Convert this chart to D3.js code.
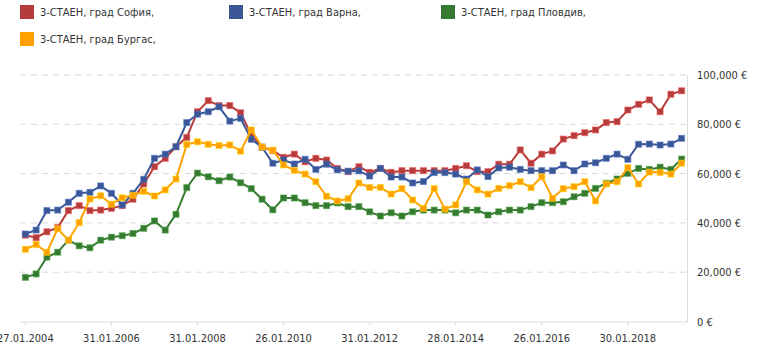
<!DOCTYPE html>
<html>
<head>
<meta charset="utf-8">
<script src="https://cdn.jsdelivr.net/npm/d3@7"></script>
<style>
  body { margin: 0; background: #fff; }
  text { font-family: "DejaVu Sans Condensed", "DejaVu Sans", sans-serif; fill: #333; }
</style>
</head>
<body>
<div id="chart"></div>
<script>
// quarterly prices, EUR
var seriesNames = ["3-СТАЕН, град София,", "3-СТАЕН, град Варна,", "3-СТАЕН, град Пловдив,", "3-СТАЕН, град Бургас,"];
var seriesColors = ["#b43c3c", "#3a5695", "#357a30", "#ffa000"];

var sofia = [35000, 34000, 36400, 38100, 45000, 47000, 45000, 45200, 45900, 47000, 49600, 55800, 62800, 66200, 70900, 74700,
  85100, 89600, 87600, 87600, 84700, 75700, 70700, 69300, 66600, 67900, 64800, 66200, 65500, 62100, 60800, 62800,
  60500, 62100, 60500, 61200, 61200, 61200, 61200, 61200, 62100, 63200, 60800, 60800, 63800, 63800, 69600, 64200,
  67900, 69200, 74000, 75400, 76600, 77700, 80700, 81100, 85800, 88100, 89900, 85100, 92200, 93600];
var varna = [35500, 37100, 45000, 45200, 48400, 52000, 52400, 55000, 52000, 47300, 52000, 57700, 66200, 67900, 70900, 80700,
  84100, 85100, 87100, 81300, 82400, 73900, 70700, 64200, 65500, 63900, 65800, 61700, 63800, 61500, 61000, 61100,
  59000, 62100, 58600, 58600, 56200, 56800, 60400, 60400, 59800, 57800, 61500, 58800, 62300, 62600, 61700, 61200,
  61200, 61200, 63500, 61200, 63900, 64400, 66200, 67900, 65800, 71900, 72000, 71600, 72000, 74300];
var plovdiv = [17900, 19300, 26100, 28100, 33000, 30700, 29900, 33000, 34200, 34800, 35700, 37800, 40800, 37100, 43500, 54300,
  60200, 58700, 57100, 58600, 56300, 53900, 49600, 45300, 50100, 50100, 48200, 47000, 47000, 48100, 46600, 46600,
  44500, 42800, 44100, 42800, 44500, 45200, 45200, 45200, 44100, 45200, 45200, 43200, 44500, 45200, 45200, 46600,
  48200, 48200, 48600, 50600, 52000, 54000, 56100, 57800, 60100, 62100, 61700, 62600, 61700, 65900];
var burgas = [29300, 31200, 28100, 37600, 33000, 40100, 49700, 51000, 47600, 50200, 51200, 52800, 50900, 53400, 57800, 71800,
  72900, 71900, 71400, 71600, 69100, 77700, 70800, 69500, 63500, 61300, 59800, 56700, 50800, 48900, 49800, 56200,
  54400, 54400, 51700, 53900, 49300, 45900, 53900, 45600, 47300, 56700, 53400, 51700, 54000, 55100, 56700, 54300,
  58700, 50000, 53900, 54700, 56700, 48900, 55800, 56700, 62400, 55800, 60600, 60500, 59800, 64200];

var tickLabels = ["27.01.2004", "31.01.2006", "31.01.2008", "26.01.2010", "31.01.2012", "28.01.2014", "26.01.2016", "30.01.2018"];
var labelStep = 8;
var yTicks = [0, 20000, 40000, 60000, 80000, 100000];

var width = 768, height = 352;
var plot = { left: 20, right: 687, top: 75, bottom: 321.5 };

var allSeries = [sofia, varna, plovdiv, burgas];
var categories = d3.range(sofia.length);

var svg = d3.select("#chart").append("svg")
  .attr("width", width)
  .attr("height", height);

var x = d3.scaleBand()
  .domain(categories)
  .range([plot.left, plot.right]);

var y = d3.scaleLinear()
  .domain([0, 100000])
  .range([plot.bottom, plot.top]);

var fmt = d3.format(",");

// gridlines
svg.append("g")
  .selectAll("line")
  .data(yTicks.filter(function (d) { return d > 0; }))
  .enter().append("line")
  .attr("x1", plot.left)
  .attr("x2", plot.right)
  .attr("y1", function (d) { return y(d); })
  .attr("y2", function (d) { return y(d); })
  .style("stroke", "#d9d9d9")
  .style("stroke-dasharray", "6,5");

// right value axis
var yAxis = svg.append("g")
  .attr("transform", "translate(" + plot.right + ",0)")
  .call(d3.axisRight(y).tickValues(yTicks).tickSize(0).tickPadding(10)
    .tickFormat(function (d) { return fmt(d) + " €"; }));
yAxis.select(".domain").style("stroke", "#dcdcdc");
yAxis.selectAll("text").style("font-size", "11px").style("fill", "#333");

// category axis
var xAxis = svg.append("g")
  .attr("transform", "translate(0," + plot.bottom + ")")
  .call(d3.axisBottom(x)
    .tickValues(categories.filter(function (d) { return d % labelStep == 0; }))
    .tickSize(4).tickSizeOuter(0).tickPadding(9)
    .tickFormat(function (d) { return tickLabels[d / labelStep]; }));
xAxis.select(".domain").style("stroke", "#dcdcdc");
xAxis.selectAll(".tick line").style("stroke", "#dcdcdc");
xAxis.selectAll("text").style("font-size", "11px").style("fill", "#333");

var cx = function (d, i) { return x(i) + x.bandwidth() / 2; };

var line = d3.line()
  .x(cx)
  .y(function (d) { return y(d); });

allSeries.forEach(function (values, s) {
  var g = svg.append("g").attr("class", "series");
  g.append("path")
    .datum(values)
    .attr("d", line)
    .style("fill", "none")
    .style("stroke", seriesColors[s])
    .style("stroke-width", 2);

  g.selectAll("rect")
    .data(values)
    .enter().append("rect")
    .attr("x", function (d, i) { return cx(d, i) - 3; })
    .attr("y", function (d) { return y(d) - 3; })
    .attr("width", 6)
    .attr("height", 6)
    .style("fill", seriesColors[s])
    .style("stroke", d3.color(seriesColors[s]).brighter(0.8))
    .style("stroke-opacity", 0.6)
    .style("stroke-width", 1);
});

// legend
var legendPos = [[20, 5], [229, 5], [441, 5], [20, 32]];
var legend = svg.selectAll(".legend")
  .data(seriesNames).enter()
  .append("g").attr("class", "legend")
  .attr("transform", function (d, i) { return "translate(" + legendPos[i][0] + "," + legendPos[i][1] + ")"; });

legend.append("rect")
  .attr("width", 14).attr("height", 14)
  .style("fill", function (d, i) { return seriesColors[i]; });

legend.append("text")
  .attr("x", 20).attr("y", 7).attr("dy", ".35em")
  .style("font-size", "11px")
  .text(function (d) { return d; });
</script>
</body>
</html>
